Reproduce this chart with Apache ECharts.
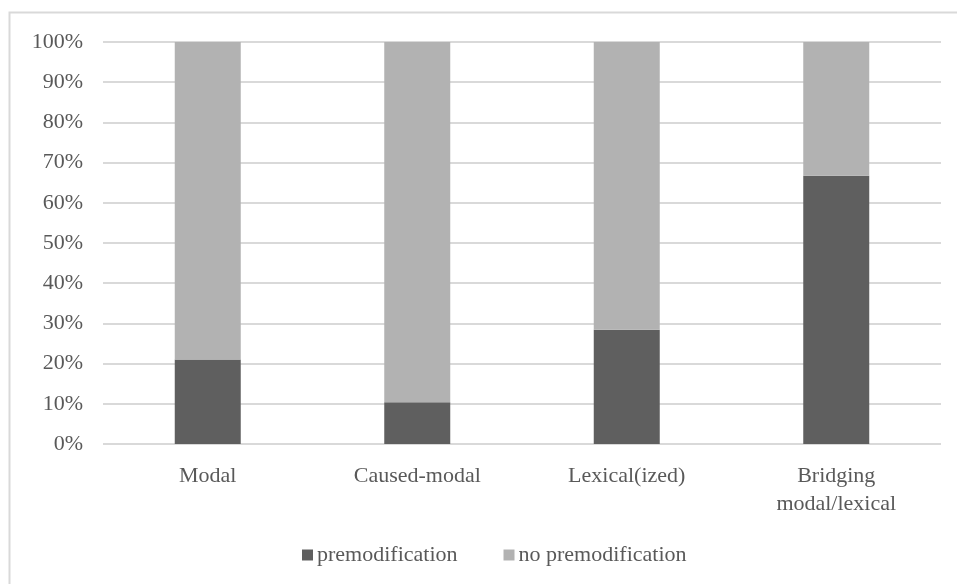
<!DOCTYPE html>
<html>
<head>
<meta charset="utf-8">
<style>
  html, body { margin: 0; padding: 0; background: #ffffff; }
  #chart { width: 957px; height: 584px; }
</style>
<script src="https://cdn.jsdelivr.net/npm/echarts@6/dist/echarts.min.js"></script>
</head>
<body>
<div id="chart"></div>
<script>
// Share of cases with and without premodification, per category (percent)
const categories = ['Modal', 'Caused-modal', 'Lexical(ized)', 'Bridging\nmodal/lexical'];
const premodification = [21.0, 10.4, 28.4, 66.7];
const noPremodification = [79.0, 89.6, 71.6, 33.3];
const yTicks = [0, 10, 20, 30, 40, 50, 60, 70, 80, 90, 100];

const textColor = '#595959';
const fontFamily = '"Liberation Serif", "Times New Roman", serif';
const fontSize = 22;

const chart = echarts.init(document.getElementById('chart'), null, { renderer: 'canvas' });

chart.setOption({
  backgroundColor: '#ffffff',
  animation: false,
  textStyle: { fontFamily: fontFamily, color: textColor },
  graphic: [{
    type: 'rect',
    shape: { x: 9.5, y: 12.5, width: 960, height: 600 },
    style: { fill: 'none', stroke: '#d9d9d9', lineWidth: 2 },
    silent: true,
    z: -1
  }],
  grid: { left: 103, right: 16, top: 42, bottom: 140, containLabel: false },
  legend: {
    left: 297,
    top: 539,
    itemWidth: 11,
    itemHeight: 11,
    itemGap: 46,
    icon: 'rect',
    textStyle: { fontFamily: fontFamily, fontSize: fontSize, color: textColor, padding: [0, 0, 0, -1] },
    data: ['premodification', 'no premodification']
  },
  xAxis: {
    type: 'category',
    data: categories,
    axisLine: { show: false },
    axisTick: { show: false },
    axisLabel: {
      margin: 18,
      fontFamily: fontFamily,
      fontSize: fontSize,
      color: textColor,
      lineHeight: 28,
      interval: 0
    }
  },
  yAxis: {
    type: 'value',
    min: yTicks[0],
    max: yTicks[yTicks.length - 1],
    interval: 10,
    axisLine: { show: false },
    axisTick: { show: false },
    splitLine: { lineStyle: { color: '#d9d9d9', width: 2 } },
    axisLabel: {
      margin: 20,
      fontFamily: fontFamily,
      fontSize: fontSize,
      color: textColor,
      formatter: v => v + '%'
    }
  },
  series: [
    {
      name: 'premodification',
      type: 'bar',
      stack: 'share',
      barWidth: 66,
      data: premodification,
      itemStyle: { color: '#5f5f5f' }
    },
    {
      name: 'no premodification',
      type: 'bar',
      stack: 'share',
      barWidth: 66,
      data: noPremodification,
      itemStyle: { color: '#b2b2b2' }
    }
  ]
});
</script>
</body>
</html>
